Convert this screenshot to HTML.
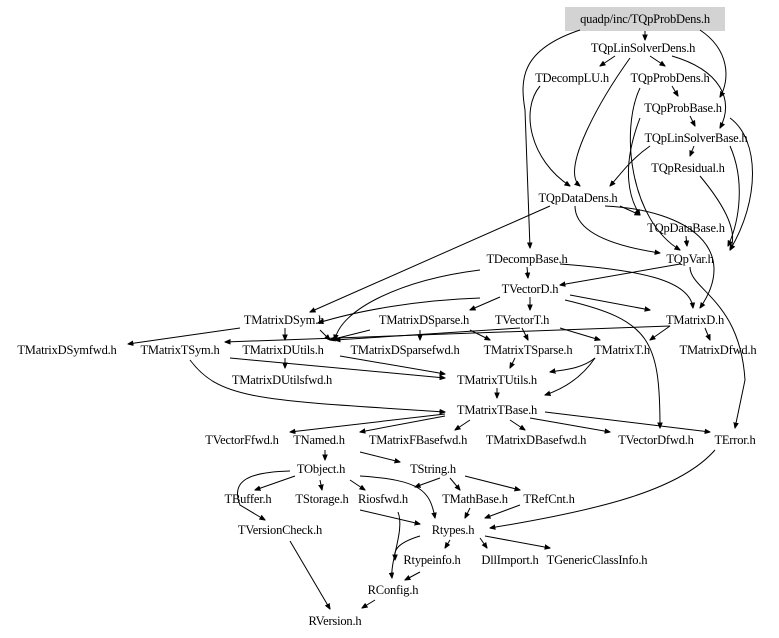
<!DOCTYPE html>
<html><head><meta charset="utf-8"><style>
html,body{margin:0;padding:0;background:#fff;width:779px;height:638px;overflow:hidden}
svg{display:block}
text{font-family:"Liberation Serif",serif;font-size:12.5px;letter-spacing:-0.2px;text-anchor:middle;fill:#000}
path{fill:none;stroke:#000;stroke-width:1}
</style></head><body>
<svg width="779" height="638" viewBox="0 0 779 638" xmlns="http://www.w3.org/2000/svg">
<defs><marker id="a" viewBox="0 0 10 10" refX="9" refY="5" markerWidth="6" markerHeight="6" orient="auto"><path d="M0,1 L10,5 L0,9 z" style="fill:#000;stroke:#000"/></marker></defs>
<rect x="565" y="7" width="160" height="24" fill="#d3d3d3"/>
<g marker-end="url(#a)">
<path d="M645,31 L645,40"/>
<path d="M580,30 C520,50 520,80 525,110 L530,248"/>
<path d="M700,30 C730,50 730,80 720,97"/>
<path d="M615,56 L600,66"/>
<path d="M650,56 L665,66"/>
<path d="M672,56 C720,70 735,100 720,128"/>
<path d="M630,58 C600,100 560,170 580,186"/>
<path d="M540,86 C520,110 530,160 570,186"/>
<path d="M672,86 L678,96"/>
<path d="M640,88 C620,130 630,220 680,250"/>
<path d="M690,116 L695,126"/>
<path d="M640,118 C620,170 630,200 640,215"/>
<path d="M730,118 C760,140 760,200 730,250"/>
<path d="M694,146 L690,156"/>
<path d="M650,146 C630,160 620,175 610,186"/>
<path d="M730,146 C745,180 740,220 728,246"/>
<path d="M700,176 C720,200 740,230 730,250"/>
<path d="M620,206 L640,215"/>
<path d="M605,206 C690,210 740,250 700,308"/>
<path d="M575,206 C575,240 640,250 660,253"/>
<path d="M550,206 L310,312"/>
<path d="M686,236 L687,246"/>
<path d="M527,267 L528,278"/>
<path d="M560,264 C640,270 690,280 693,308"/>
<path d="M680,264 L560,285"/>
<path d="M690,267 C690,290 740,300 745,380 L735,428"/>
<path d="M480,298 C420,300 360,310 318,323"/>
<path d="M480,270 C400,280 340,310 335,340"/>
<path d="M500,297 L470,310"/>
<path d="M530,297 L530,310"/>
<path d="M570,295 L650,310"/>
<path d="M565,300 C650,320 660,340 660,428"/>
<path d="M240,328 L128,344"/>
<path d="M285,328 L285,340"/>
<path d="M320,330 L330,340"/>
<path d="M370,330 L330,340"/>
<path d="M420,330 L420,340"/>
<path d="M470,330 L490,340"/>
<path d="M520,328 L335,340"/>
<path d="M522,328 L528,340"/>
<path d="M560,328 L600,340"/>
<path d="M670,326 L225,342"/>
<path d="M670,326 L650,340"/>
<path d="M705,328 L710,340"/>
<path d="M285,358 L285,368"/>
<path d="M230,358 L445,378"/>
<path d="M340,356 L445,374"/>
<path d="M515,358 L510,368"/>
<path d="M595,358 C580,370 560,370 550,372"/>
<path d="M595,358 C580,380 560,390 545,395"/>
<path d="M190,360 C220,400 260,400 445,412"/>
<path d="M497,388 L497,398"/>
<path d="M445,414 L290,432"/>
<path d="M445,416 L360,432"/>
<path d="M470,420 L455,430"/>
<path d="M510,420 L525,430"/>
<path d="M530,418 L610,432"/>
<path d="M545,412 L710,432"/>
<path d="M325,450 L325,460"/>
<path d="M360,452 L400,462"/>
<path d="M295,476 L255,490"/>
<path d="M320,480 L322,490"/>
<path d="M350,480 L365,490"/>
<path d="M360,476 C420,480 430,490 435,518"/>
<path d="M290,471 C250,472 230,480 240,505 L265,520"/>
<path d="M440,478 L415,487"/>
<path d="M450,478 L460,490"/>
<path d="M465,476 L520,490"/>
<path d="M715,450 C680,490 600,510 490,528"/>
<path d="M520,505 L485,518"/>
<path d="M470,508 L465,518"/>
<path d="M360,510 L420,524"/>
<path d="M398,512 C405,530 390,560 392,578"/>
<path d="M420,536 C390,545 395,555 395,560"/>
<path d="M450,540 L445,548"/>
<path d="M480,538 L487,548"/>
<path d="M485,536 L550,548"/>
<path d="M420,572 L405,580"/>
<path d="M290,541 L330,609"/>
<path d="M375,600 L362,608"/>
</g>
<text x="645" y="23">quadp/inc/TQpProbDens.h</text>
<text x="643" y="52">TQpLinSolverDens.h</text>
<text x="572" y="82">TDecompLU.h</text>
<text x="670" y="82">TQpProbDens.h</text>
<text x="683" y="112">TQpProbBase.h</text>
<text x="696" y="142">TQpLinSolverBase.h</text>
<text x="688" y="172">TQpResidual.h</text>
<text x="578" y="202">TQpDataDens.h</text>
<text x="686" y="232">TQpDataBase.h</text>
<text x="690" y="263">TQpVar.h</text>
<text x="527" y="263">TDecompBase.h</text>
<text x="530" y="293">TVectorD.h</text>
<text x="284" y="324">TMatrixDSym.h</text>
<text x="424" y="324">TMatrixDSparse.h</text>
<text x="522" y="324">TVectorT.h</text>
<text x="695" y="324">TMatrixD.h</text>
<text x="67" y="354">TMatrixDSymfwd.h</text>
<text x="180" y="354">TMatrixTSym.h</text>
<text x="283" y="354">TMatrixDUtils.h</text>
<text x="405" y="354">TMatrixDSparsefwd.h</text>
<text x="528" y="354">TMatrixTSparse.h</text>
<text x="622" y="354">TMatrixT.h</text>
<text x="718" y="354">TMatrixDfwd.h</text>
<text x="282" y="384">TMatrixDUtilsfwd.h</text>
<text x="497" y="384">TMatrixTUtils.h</text>
<text x="497" y="414">TMatrixTBase.h</text>
<text x="242" y="444">TVectorFfwd.h</text>
<text x="319" y="444">TNamed.h</text>
<text x="418" y="444">TMatrixFBasefwd.h</text>
<text x="536" y="444">TMatrixDBasefwd.h</text>
<text x="656" y="444">TVectorDfwd.h</text>
<text x="735" y="444">TError.h</text>
<text x="321" y="473">TObject.h</text>
<text x="433" y="473">TString.h</text>
<text x="248" y="503">TBuffer.h</text>
<text x="322" y="503">TStorage.h</text>
<text x="383" y="503">Riosfwd.h</text>
<text x="475" y="503">TMathBase.h</text>
<text x="549" y="503">TRefCnt.h</text>
<text x="280" y="534">TVersionCheck.h</text>
<text x="453" y="534">Rtypes.h</text>
<text x="432" y="564">Rtypeinfo.h</text>
<text x="510" y="564">DllImport.h</text>
<text x="597" y="564">TGenericClassInfo.h</text>
<text x="393" y="594">RConfig.h</text>
<text x="335" y="625">RVersion.h</text>
</svg>
</body></html>
